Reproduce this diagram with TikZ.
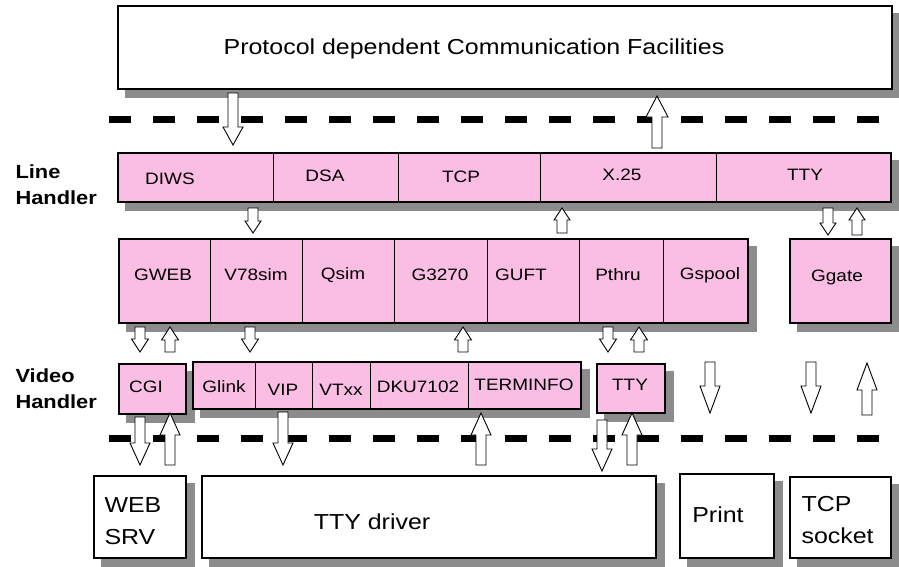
\documentclass[tikz,border=0pt]{standalone}
\usepackage{fontspec}
\setmainfont{Liberation Sans}[FakeStretch=1.15]
\usetikzlibrary{backgrounds}
\definecolor{pinkfill}{RGB}{250,190,228}
\definecolor{shadowgray}{RGB}{140,140,140}
\newcommand{\arrdown}[5]{\draw [arrowbody] ({#1-5},#2) -- ({#1+5},#2) -- ({#1+5},{#3-#5}) -- ({#1+#4},{#3-#5}) -- (#1,#3) -- ({#1-#4},{#3-#5}) -- ({#1-5},{#3-#5}) -- cycle;}
\newcommand{\arrup}[5]{\draw [arrowbody] ({#1-5},#3) -- ({#1+5},#3) -- ({#1+5},{#2+#5}) -- ({#1+#4},{#2+#5}) -- (#1,#2) -- ({#1-#4},{#2+#5}) -- ({#1-5},{#2+#5}) -- cycle;}
\begin{document}
\begin{tikzpicture}[x=1pt, y=-1pt,
		box/.style={draw=black, line width=1.6pt, fill=white, anchor=north west, inner sep=0pt},
		pinkbox/.style={box, fill=pinkfill},
		cell/.style={font=\fontsize{16.5}{20}\selectfont},
		big/.style={font=\fontsize{21.7}{32}\selectfont},
		side/.style={anchor=west, align=left, font=\fontsize{19}{26}\selectfont\bfseries},
		divider/.style={line width=0.9pt},
		dashline/.style={line width=7pt, dash pattern=on 22pt off 22pt},
		arrowbody/.style={draw=black, line width=0.9pt, fill=white}]
			\useasboundingbox (0,0) rectangle (899,566);
			\node [box, minimum width=774pt, minimum height=83pt] (top) at (117,5) {};
			\node [big] (topl) at (474,49) {Protocol dependent Communication Facilities};
			\draw [dashline] (109,119) -- (892,119);
			\draw [dashline] (109,438) -- (892,438);
			\node [side] (lineh) at (12,185) {Line\\Handler};
			\node [side] (videoh) at (12,389) {Video\\Handler};
			\node [pinkbox, minimum width=773pt, minimum height=49pt] (linerow) at (117,152) {};
			\draw [divider] (273,152) -- (273,201);
			\draw [divider] (398,152) -- (398,201);
			\draw [divider] (540,152) -- (540,201);
			\draw [divider] (716,152) -- (716,201);
			\node [cell] (diws) at (170,179) {DIWS};
			\node [cell] (dsa) at (325,176) {DSA};
			\node [cell] (tcp) at (461,177) {TCP};
			\node [cell] (xtf) at (622,175) {X.25};
			\node [cell] (ttyl) at (805,175) {TTY};
			\node [pinkbox, minimum width=629pt, minimum height=84pt] (simrow) at (118,238) {};
			\draw [divider] (210,238) -- (210,322);
			\draw [divider] (302,238) -- (302,322);
			\draw [divider] (394,238) -- (394,322);
			\draw [divider] (487,238) -- (487,322);
			\draw [divider] (579,238) -- (579,322);
			\draw [divider] (663,238) -- (663,322);
			\node [cell] (gweb) at (163,275) {GWEB};
			\node [cell] (vsim) at (256,275) {V78sim};
			\node [cell] (qsim) at (343,275) {Qsim};
			\node [cell] (gterm) at (440,275) {G3270};
			\node [cell] (guft) at (521,275) {GUFT};
			\node [cell] (pthru) at (618,275) {Pthru};
			\node [cell] (gspool) at (710,275) {Gspool};
			\node [pinkbox, minimum width=101pt, minimum height=84pt] (ggate) at (789,238) {};
			\node [cell] (ggatel) at (837,277) {Ggate};
			\node [pinkbox, minimum width=67pt, minimum height=50pt] (cgi) at (118,363) {};
			\node [cell] (cgil) at (146,387) {CGI};
			\node [pinkbox, minimum width=388pt, minimum height=47pt] (vidrow) at (192,361) {};
			\draw [divider] (255,361) -- (255,408);
			\draw [divider] (312,361) -- (312,408);
			\draw [divider] (370,361) -- (370,408);
			\draw [divider] (468,361) -- (468,408);
			\node [cell] (glink) at (224,387) {Glink};
			\node [cell] (vip) at (283,390) {VIP};
			\node [cell] (vtxx) at (341,390) {VTxx};
			\node [cell] (dku) at (418,387) {DKU7102};
			\node [cell] (tinfo) at (524,385) {TERMINFO};
			\node [pinkbox, minimum width=68pt, minimum height=49pt] (ttyv) at (596,363) {};
			\node [cell] (ttyvl) at (630,385) {TTY};
			\node [box, minimum width=92pt, minimum height=82pt] (websrv) at (93,475) {};
			\node [big, anchor=west, align=left] (websrvl) at (101,521) {WEB\\SRV};
			\node [box, minimum width=454pt, minimum height=82pt] (ttydrv) at (201,475) {};
			\node [big] (ttydrvl) at (372,522) {TTY driver};
			\node [box, minimum width=94pt, minimum height=84pt] (print) at (679,473) {};
			\node [big] (printl) at (718,515) {Print};
			\node [box, minimum width=101pt, minimum height=81pt] (tcpsock) at (789,476) {};
			\node [big, anchor=west, align=left] (tcpsockl) at (798,520) {TCP\\socket};
			\begin{pgfonlayer}{background}
				\foreach \b in {top,linerow,simrow,ggate,cgi,vidrow,ttyv,websrv,ttydrv,print,tcpsock}
					\fill [shadowgray] ([xshift=8pt,yshift=-8pt]\b.south west) rectangle ([xshift=8pt,yshift=-8pt]\b.north east);
			\end{pgfonlayer}
			\arrdown{233}{93}{145}{10}{18}
			\arrup{657}{96}{148}{11}{21}
			\arrdown{253}{208}{233}{8}{12}
			\arrup{562}{208}{233}{8}{12}
			\arrdown{828}{208}{235}{8}{12}
			\arrup{857}{208}{235}{8}{12}
			\arrdown{140}{327}{352}{8.5}{13}
			\arrup{170}{327}{352}{8.5}{13}
			\arrdown{250}{327}{352}{8.5}{13}
			\arrup{463}{327}{352}{8.5}{13}
			\arrdown{608}{327}{352}{8.5}{13}
			\arrup{639}{327}{352}{8.5}{13}
			\arrdown{710}{362}{413}{10}{27}
			\arrdown{811}{362}{413}{10}{27}
			\arrup{867}{363}{415}{10}{27}
			\arrdown{140}{417}{465}{10}{22}
			\arrup{170}{413}{465}{10}{22}
			\arrdown{283}{412}{465}{10}{22}
			\arrup{481}{413}{465}{10}{22}
			\arrdown{602}{420}{471}{10}{22}
			\arrup{632}{413}{465}{10}{22}
		\end{tikzpicture}
\end{document}
